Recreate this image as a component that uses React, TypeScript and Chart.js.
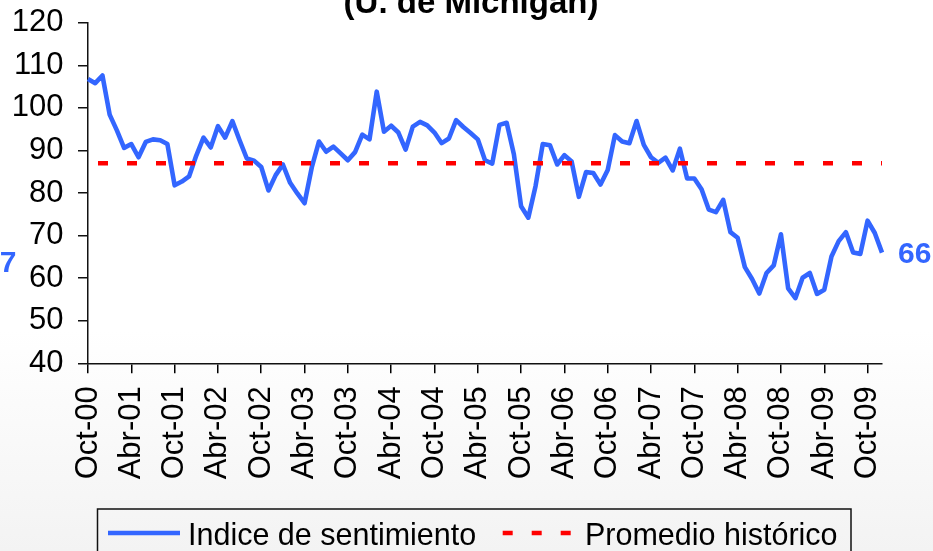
import { useEffect, useRef } from 'react';
import { Chart, registerables } from 'chart.js';

Chart.register(...registerables);

const FONT = '"Liberation Sans", Arial, Helvetica, sans-serif';

// Category labels: monthly, Oct-00 .. Dic-09 (Spanish abbreviations)
const monthNames = ['Ene', 'Feb', 'Mar', 'Abr', 'May', 'Jun', 'Jul', 'Ago', 'Sep', 'Oct', 'Nov', 'Dic'];
const categories: string[] = [];
for (let y = 2000; y <= 2009; y++) {
  for (let m = 0; m < 12; m++) {
    if (y === 2000 && m < 9) continue;
    categories.push(`${monthNames[m]}-${String(y % 100).padStart(2, '0')}`);
  }
}

// Indice de sentimiento
const sentimentValues: number[] = [
  106.8, 105.8, 107.6, 98.4,
  94.7, 90.6, 91.5, 88.4, 92.0, 92.6, 92.4, 91.5, 81.8, 82.7, 83.9, 88.8,
  93.0, 90.7, 95.7, 93.0, 96.9, 92.4, 88.1, 87.6, 86.1, 80.6, 84.2, 86.7,
  82.4, 79.9, 77.6, 86.0, 92.1, 89.7, 90.9, 89.3, 87.7, 89.6, 93.7, 92.6,
  103.8, 94.4, 95.8, 94.2, 90.2, 95.6, 96.7, 95.9, 94.2, 91.7, 92.8, 97.1,
  95.5, 94.1, 92.6, 87.7, 86.9, 96.0, 96.5, 89.1, 76.9, 74.2, 81.6, 91.5,
  91.2, 86.7, 88.9, 87.4, 79.1, 84.9, 84.7, 82.0, 85.4, 93.6, 92.1, 91.7,
  96.9, 91.3, 88.4, 87.1, 88.3, 85.3, 90.4, 83.4, 83.4, 80.9, 76.1, 75.5,
  78.4, 70.8, 69.5, 62.6, 59.8, 56.4, 61.2, 63.0, 70.3, 57.6, 55.3, 60.1,
  61.2, 56.3, 57.3, 65.1, 68.7, 70.8, 66.0, 65.7, 73.5, 70.6, 66.0,
];

// Promedio histórico
const historicalAverage = 87;
const averageValues: number[] = categories.map(() => historicalAverage);

const seriesLabels = ['Indice de sentimiento', 'Promedio histórico'];
const titleText = '(U. de Michigan)';
const leftLabel = '87';
const rightLabel = '66';

const BLUE = '#3366FF';
const RED = '#FF0000';

const overlayPlugin = {
  id: 'overlay',
  beforeDraw(chart: any) {
    const { ctx, width, height } = chart;
    ctx.save();
    const g = ctx.createLinearGradient(0, 0, 0, height);
    g.addColorStop(0, '#ffffff');
    g.addColorStop(0.6, '#ffffff');
    g.addColorStop(1, '#f3f3f3');
    ctx.fillStyle = g;
    ctx.fillRect(0, 0, width, height);
    ctx.restore();
  },
  afterDraw(chart: any) {
    const { ctx } = chart;
    ctx.save();
    // title (partly cut at top)
    ctx.fillStyle = '#000';
    ctx.font = `bold 33px ${FONT}`;
    ctx.textAlign = 'center';
    ctx.textBaseline = 'alphabetic';
    ctx.fillText(titleText, 471, 13);

    // side labels
    ctx.fillStyle = BLUE;
    ctx.font = `bold 30px ${FONT}`;
    ctx.textAlign = 'right';
    ctx.fillText(leftLabel, 16.5, 272);
    ctx.textAlign = 'left';
    ctx.fillText(rightLabel, 898, 262.5);

    // legend
    const ds = chart.data.datasets;
    ctx.strokeStyle = '#111';
    ctx.lineWidth = 1.5;
    ctx.strokeRect(97.5, 509, 753.5, 70);

    ctx.lineWidth = 4.5;
    ctx.strokeStyle = ds[0].borderColor;
    ctx.setLineDash([]);
    ctx.beginPath();
    ctx.moveTo(108, 533);
    ctx.lineTo(180, 533);
    ctx.stroke();

    ctx.strokeStyle = ds[1].borderColor;
    ctx.setLineDash([10, 19]);
    ctx.beginPath();
    ctx.moveTo(502.7, 533);
    ctx.lineTo(571.7, 533);
    ctx.stroke();
    ctx.setLineDash([]);

    ctx.fillStyle = '#000';
    ctx.font = `30.5px ${FONT}`;
    ctx.textAlign = 'left';
    ctx.fillText(ds[0].label, 188, 545);
    ctx.fillText(ds[1].label, 585, 545);
    ctx.restore();
  },
};

export default function App() {
  const ref = useRef<HTMLCanvasElement | null>(null);

  useEffect(() => {
    document.body.style.margin = '0';
    document.body.style.overflow = 'hidden';
    const canvas = ref.current;
    if (!canvas) return;
    const tickCol = (c: any) => (c.index % 6 === 0 ? '#000' : 'rgba(0,0,0,0)');
    const chart = new Chart(canvas, {
      type: 'line',
      data: {
        labels: categories,
        datasets: [
          {
            label: seriesLabels[0],
            data: sentimentValues,
            borderColor: BLUE,
            borderWidth: 4.6,
            pointRadius: 0,
            tension: 0,
            borderJoinStyle: 'round',
            borderCapStyle: 'butt',
            fill: false,
            order: 1,
          },
          {
            label: seriesLabels[1],
            data: averageValues,
            borderColor: RED,
            borderWidth: 4.5,
            borderDash: [10, 19],
            borderDashOffset: 19,
            pointRadius: 0,
            tension: 0,
            fill: false,
            order: 0,
          },
        ],
      },
      options: {
        responsive: false,
        animation: false,
        events: [],
        layout: { padding: { top: 22.7, right: 51, left: 0, bottom: 0 } },
        plugins: {
          legend: { display: false },
          title: { display: false },
          tooltip: { enabled: false },
        },
        scales: {
          x: {
            type: 'category',
            offset: false,
            grid: {
              drawOnChartArea: false,
              drawTicks: true,
              tickLength: 10,
              lineWidth: 1.5,
              color: tickCol,
              tickColor: tickCol,
            },
            border: { display: true, color: '#111', width: 1.5 },
            ticks: {
              autoSkip: false,
              maxRotation: 90,
              minRotation: 90,
              padding: 13,
              color: '#000',
              font: { size: 31, family: FONT },
              callback: function (this: any, v: any, i: number) {
                return i % 6 === 0 ? this.getLabelForValue(v) : '';
              },
            },
            afterFit: (s: any) => {
              s.height = 551 - 363.3;
              s.paddingLeft = 0;
              s.paddingRight = 0;
            },
          },
          y: {
            type: 'linear',
            min: 40,
            max: 120,
            grid: {
              drawOnChartArea: false,
              drawTicks: true,
              tickLength: 10,
              lineWidth: 1.5,
              color: '#111',
            },
            border: { display: true, color: '#111', width: 1.5 },
            ticks: {
              stepSize: 10,
              padding: 14.5,
              color: '#000',
              font: { size: 31, family: FONT },
            },
            afterFit: (s: any) => {
              s.width = 88;
              s.paddingTop = 0;
              s.paddingBottom = 0;
            },
          },
        },
      },
      plugins: [overlayPlugin],
    });
    return () => chart.destroy();
  }, []);

  return (
    <canvas
      ref={ref}
      width={933}
      height={551}
      style={{ display: 'block', width: '933px', height: '551px' }}
    />
  );
}
